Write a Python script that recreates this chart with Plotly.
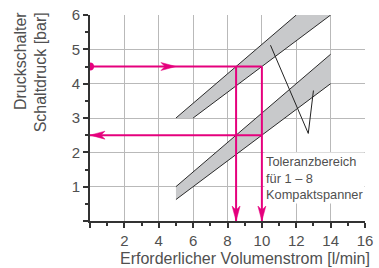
import plotly.graph_objects as go

# ---- data ----
x_ticks = [0, 2, 4, 6, 8, 10, 12, 14, 16]
x_ticklabels = ["", "2", "4", "6", "8", "10", "12", "14", "16"]
y_ticks = [0, 1, 2, 3, 4, 5, 6]
y_ticklabels = ["", "1", "2", "3", "4", "5", "6"]

# tolerance bands (edge lines)
upper_top_x = [5, 12]
upper_top_y = [3, 6]
upper_bot_x = [6, 14]
upper_bot_y = [3, 6]
lower_top_x = [5, 14]
lower_top_y = [1.0, 4.857]
lower_bot_x = [5, 14]
lower_bot_y = [0.625, 4.0]

# reading example (magenta)
p_start = 4.5          # bar
flow_low = 8.5         # l/min
flow_high = 10.0       # l/min
p_return = 2.5         # bar
arrow_right_tip = 5.0

# leader lines to label
leader_x = [10.5, 12.7, 13.0]
leader_y = [5.12, 2.55, 3.8]

MAG = "#e5007d"
GRID = "#b9b9b9"
AXC = "#333333"
TXT = "#505050"
BAND = "#c8c9cb"
FONT = "Liberation Sans, Arial, sans-serif"

fig = go.Figure()

# band fills
fig.add_trace(go.Scatter(
    x=upper_top_x + upper_bot_x[::-1],
    y=upper_top_y + upper_bot_y[::-1],
    fill="toself", fillcolor=BAND, line=dict(width=0), mode="lines",
    hoverinfo="skip", showlegend=False))
fig.add_trace(go.Scatter(
    x=lower_top_x + lower_bot_x[::-1],
    y=lower_top_y + lower_bot_y[::-1],
    fill="toself", fillcolor=BAND, line=dict(width=0), mode="lines",
    hoverinfo="skip", showlegend=False))
# band edges
for xs, ys in [(upper_top_x, upper_top_y), (upper_bot_x, upper_bot_y),
               (lower_top_x, lower_top_y), (lower_bot_x, lower_bot_y)]:
    fig.add_trace(go.Scatter(x=xs, y=ys, mode="lines",
                             line=dict(color="#2a2a2a", width=1),
                             hoverinfo="skip", showlegend=False))

# leader lines
fig.add_trace(go.Scatter(x=leader_x, y=leader_y, mode="lines",
                         line=dict(color="#222222", width=1),
                         hoverinfo="skip", showlegend=False))

# magenta reading lines
fig.add_trace(go.Scatter(x=[0, flow_high], y=[p_start, p_start], mode="lines",
                         line=dict(color=MAG, width=2), showlegend=False))
fig.add_trace(go.Scatter(x=[flow_low, flow_low], y=[p_start, 0], mode="lines",
                         line=dict(color=MAG, width=2), showlegend=False))
fig.add_trace(go.Scatter(x=[flow_high, flow_high], y=[p_start, 0], mode="lines",
                         line=dict(color=MAG, width=2), showlegend=False))
fig.add_trace(go.Scatter(x=[flow_high, 0], y=[p_return, p_return], mode="lines",
                         line=dict(color=MAG, width=2), showlegend=False))
fig.add_trace(go.Scatter(x=[0], y=[p_start], mode="markers",
                         marker=dict(color=MAG, size=8), showlegend=False))

# arrowheads as pixel-sized shapes anchored at data tips
def head(xa, ya, direction):
    L, W, N = 15, 4, 11
    if direction == "down":
        path = f"M0,0 L{-W},{L} L0,{N} L{W},{L} Z"
    elif direction == "right":
        path = f"M0,0 L{-L},{W} L{-N},0 L{-L},{-W} Z"
    else:  # left
        path = f"M0,0 L{L},{W} L{N},0 L{L},{-W} Z"
    fig.add_shape(type="path", xref="x", yref="y", xsizemode="pixel",
                  ysizemode="pixel", xanchor=xa, yanchor=ya, path=path,
                  fillcolor=MAG, line=dict(color=MAG, width=0.5), layer="above")

head(flow_low, 0, "down")
head(flow_high, 0, "down")
head(arrow_right_tip, p_start, "right")
head(0, p_return, "left")

# label
fig.add_annotation(x=10.1, y=2.0, xref="x", yref="y", xanchor="left",
                   yanchor="top", align="left", showarrow=False,
                   text="Toleranzbereich<br>für 1 – 8<br>Kompaktspanner",
                   font=dict(family=FONT, size=12.8, color=TXT),
                   bgcolor="white", borderpad=1)

# axis titles
fig.add_annotation(x=(244.5 - 90) / 275, y=-0.182, xref="paper", yref="paper",
                   xanchor="center", yanchor="middle", showarrow=False,
                   text="Erforderlicher Volumenstrom [l/min]",
                   font=dict(family=FONT, size=16, color=TXT))
fig.add_annotation(x=-0.2145, y=1.025, xref="paper", yref="paper",
                   xanchor="center", yanchor="top", showarrow=False,
                   textangle=-90, align="right",
                   text="Druckschalter<br>Schaltdruck [bar]",
                   font=dict(family=FONT, size=16, color=TXT))

fig.update_layout(
    width=379, height=268,
    margin=dict(l=90, r=14, t=15, b=47, autoexpand=False),
    plot_bgcolor="white", paper_bgcolor="white",
    font=dict(family=FONT, size=15, color=TXT),
    xaxis=dict(range=[0, 16], tickmode="array", tickvals=x_ticks,
               ticktext=x_ticklabels, showgrid=True, gridcolor=GRID,
               gridwidth=1, zeroline=False, showline=True, linecolor=AXC,
               linewidth=2, ticks="outside", ticklen=5, tickcolor=AXC,
               tickwidth=1.5, automargin=False,
               minor=dict(tickvals=[1, 3, 5, 7, 9, 11, 13, 15],
                          ticks="outside", ticklen=3, tickcolor=AXC,
                          showgrid=False),
               fixedrange=True),
    yaxis=dict(range=[0, 6], tickmode="array", tickvals=y_ticks,
               ticktext=y_ticklabels, showgrid=True, gridcolor=GRID,
               gridwidth=1, zeroline=False, showline=True, linecolor=AXC,
               linewidth=2, ticks="outside", ticklen=5, tickcolor=AXC,
               tickwidth=1.5, automargin=False,
               minor=dict(tickvals=[0.5, 1.5, 2.5, 3.5, 4.5, 5.5],
                          ticks="outside", ticklen=3, tickcolor=AXC,
                          showgrid=False),
               fixedrange=True),
)

fig.write_html("out.html", config={"displayModeBar": False},
               post_script="document.body.style.margin='0px';"
                           "document.body.style.padding='0px';")
